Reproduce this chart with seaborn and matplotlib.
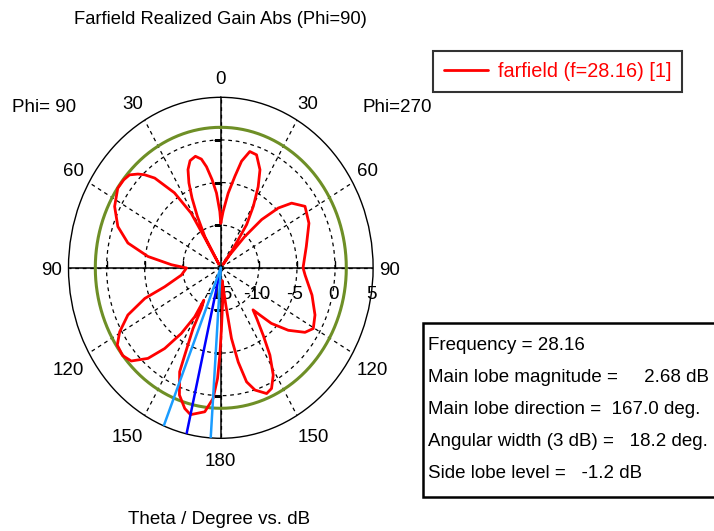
import numpy as np
import matplotlib
matplotlib.use("Agg")
import matplotlib.pyplot as plt
import seaborn as sns
from matplotlib.patches import Rectangle
from matplotlib.lines import Line2D
from matplotlib.markers import TICKUP, TICKLEFT

# ---------------- data ----------------
theta_deg = [0, 1.1, 3.7, 6.3, 9.0, 11.3, 14.3, 17.8, 20.5, 22.8,
             24.8, 27, 29.8, 30.4, 31, 31.3, 34.7, 39.5, 42.5, 44.7,
             47.7, 51, 55.4, 62.7, 70.3, 76.6, 82.1, 86.8, 90.3, 99.4,
             106.8, 109.8, 114.4, 119.5, 123.7, 128.6, 132.9, 138, 142.1, 146,
             149.2, 149.6, 152, 152.9, 155.2, 156.1, 160, 164, 167, 172.9,
             176.2, 178.1, 179.3, 180.7, 183.5, 186.5, 188.6, 189.6, 191.7, 194.2,
             197.4, 202.2, 205.2, 208.7, 212.2, 215.1, 218.4, 220.6, 222.9, 225.5,
             230.4, 235.6, 239.6, 245.9, 255, 265.6, 270, 282.5, 294.3, 303.1,
             309.2, 312.9, 316.5, 319.4, 322.2, 323, 324, 325.2, 326.2, 329.4,
             332.7, 335.9, 340.5, 344.4, 347.7, 350.2, 353.7, 357.4, 360]
gain_db = [-9.76, -8.4, -6.2, -4.6, -3.0, -2.0, -1.5, -1.8, -2.7, -4.2,
           -6.0, -8.2, -10.8, -14.5, -10.9, -7.5, -4.3, -1.36, -0.2, 0.47,
           1.2, 1.4, 1.44, 0.69, -0.64, -2.46, -5.35, -8.5, -10.5, -9.75,
           -7.3, -4.4, -1.6, 0.26, 1.34, 1.5, 1.06, -0.7, -3.0, -5.7,
           -8.3, -10.6, -9.6, -7.0, -3.7, -1.66, 0.88, 2.17, 2.68, 2.02,
           0.37, -2.0, -4.76, -7.9, -11.0, -13.5, -10.5, -6.6, -3.7, -1.2,
           0.03, 0.93, 0.65, -0.66, -2.9, -5.3, -7.4, -8.5, -7.4, -5.7,
           -3.5, -1.6, -0.92, -1.45, -2.6, -3.9, -4.2, -3.5, -2.3, -1.8,
           -3.0, -4.7, -7.2, -10.2, -13.1, -14.5, -12.6, -11.0, -8.9, -6.6,
           -4.3, -2.4, -0.94, -0.84, -2.2, -4.1, -6.2, -8.4, -9.76]

frequency = 28.16
main_lobe_mag = 2.68
main_lobe_dir = 167.0
beam_edges = [158.0, 176.2]
angular_width = 18.2
side_lobe_level = -1.2

r_ticks = [-15, -10, -5, 0, 5]
r_rings = [-10, -5, 0]
theta_ticks = [0, 30, 60, 90, 120, 150, 180, 210, 240, 270, 300, 330]
theta_labels = ['0', '30', '60', '90', '120', '150', '180',
                '150', '120', '90', '60', '30']
legend_label = 'farfield (f=28.16) [1]'

# ---------------- style ----------------
sns.set_theme(style='white')
plt.rcParams['font.family'] = ['Liberation Sans', 'DejaVu Sans']

W, H = 714, 531
fig = plt.figure(figsize=(W / 100, H / 100), dpi=100)
fig.patch.set_facecolor('white')


def fx(px):
    return px / W


def fy(py):
    return 1 - py / H


cx, cy, rx, ry = 220.8, 267.8, 152.3, 170.5
ax = fig.add_axes([fx(cx - rx), fy(cy + ry), 2 * rx / W, 2 * ry / H],
                  projection='polar')
ax.set_aspect('auto')
ax.set_facecolor('white')
ax.set_theta_zero_location('N')
ax.set_theta_direction(1)

# red pattern
sns.lineplot(x=np.deg2rad(theta_deg), y=gain_db, ax=ax, sort=False,
             estimator=None, color='#ff0000', linewidth=2.0, zorder=4,
             legend=False)
for ln in ax.get_lines():
    ln.set_solid_joinstyle('round')

r_lo, r_hi = r_ticks[0], r_ticks[-1]
ax.set_rlim(r_lo, r_hi)

# grids
ax.set_thetagrids(theta_ticks, [''] * len(theta_ticks))
ax.set_rgrids(r_rings, labels=[''] * len(r_rings))
ax.grid(True, color='black', linestyle=(0, (3, 3)), linewidth=0.9)
ax.spines['polar'].set_color('black')
ax.spines['polar'].set_linewidth(1.0)

# angle labels placed just outside the rim
r_lab = r_hi + 0.07 * (r_hi - r_lo)
for a, s in zip(theta_ticks, theta_labels):
    if a == 0:
        ha, va, dx = 'center', 'bottom', 0
    elif a == 180:
        ha, va, dx = 'center', 'top', 0
    else:
        ha = 'right' if a < 180 else 'left'
        dx = 4 if a < 180 else -5
        if a in (90, 270):
            va = 'center'
        elif a < 90 or a > 270:
            va = 'bottom'
        else:
            va = 'top'
    ax.annotate(s, xy=(np.deg2rad(a), r_lab), xytext=(dx, -3),
                textcoords='offset pixels', ha=ha, va=va, fontsize=13.5,
                color='black', annotation_clip=False)

# solid main axes
for a in [0, 90, 180, 270]:
    ax.axvline(np.deg2rad(a), color='black', linewidth=1.1, zorder=2)

# small ring ticks on the main axes
for a in [90, 270]:
    ax.plot(np.deg2rad([a] * len(r_rings)), r_rings, linestyle='none',
            marker=TICKUP, markersize=5, color='black', zorder=2)
for a in [0, 180]:
    ax.plot(np.deg2rad([a] * len(r_rings)), r_rings, linestyle='none',
            marker=TICKLEFT, markersize=5, color='black', zorder=2)

# side lobe level circle
slev = main_lobe_mag + side_lobe_level
tt = np.linspace(0, 2 * np.pi, 721)
ax.plot(tt, np.full_like(tt, slev), color='#6e8f26', linewidth=2.2, zorder=3)

# main lobe direction and 3 dB edges
ax.axvline(np.deg2rad(main_lobe_dir), color='#0000ff', linewidth=1.8, zorder=5)
for e in beam_edges:
    ax.axvline(np.deg2rad(e), color='#1a9cff', linewidth=1.8, zorder=5)

# radial labels
for r in r_ticks:
    ax.annotate(str(r), xy=(np.deg2rad(270), r), xytext=(-2, -27),
                textcoords='offset pixels', ha='center', va='center',
                fontsize=13.5, color='black', zorder=1, annotation_clip=False)

ax.set_xlabel('')
ax.set_ylabel('')

# titles
fig.text(fx(220), fy(20), 'Farfield Realized Gain Abs (Phi=90)',
         ha='center', va='center', fontsize=13.2, color='black')
fig.text(fx(219), fy(519), 'Theta / Degree vs. dB',
         ha='center', va='center', fontsize=13.5, color='black')
fig.text(fx(44), fy(108), 'Phi= 90', ha='center', va='center',
         fontsize=13.5, color='black')
fig.text(fx(397), fy(108), 'Phi=270', ha='center', va='center',
         fontsize=13.5, color='black')

# legend
leg = fig.legend(handles=[Line2D([], [], color='#ff0000', linewidth=2.0)],
                 labels=[legend_label], loc='upper left',
                 bbox_to_anchor=(fx(433), fy(51)), frameon=True,
                 fancybox=False, edgecolor='black', labelcolor='#ff0000',
                 fontsize=14.3, handlelength=2.2, handletextpad=0.5,
                 borderpad=0.55, borderaxespad=0)
leg.get_frame().set_linewidth(1.5)

# info box
box = Rectangle((fx(423), fy(497)), fx(740) - fx(423), (497 - 323) / H,
                transform=fig.transFigure, facecolor='white',
                edgecolor='black', linewidth=1.8, clip_on=False)
fig.add_artist(box)
info_lines = [
    f'Frequency = {frequency}',
    f'Main lobe magnitude =     {main_lobe_mag} dB',
    f'Main lobe direction =  {main_lobe_dir:.1f} deg.',
    f'Angular width (3 dB) =   {angular_width} deg.',
    f'Side lobe level =   {side_lobe_level} dB',
]
for i, s in enumerate(info_lines):
    fig.text(fx(428), fy(345 + i * 32), s, ha='left', va='center',
             fontsize=13.5, color='black')

fig.savefig('out.png', dpi=100, facecolor='white')
